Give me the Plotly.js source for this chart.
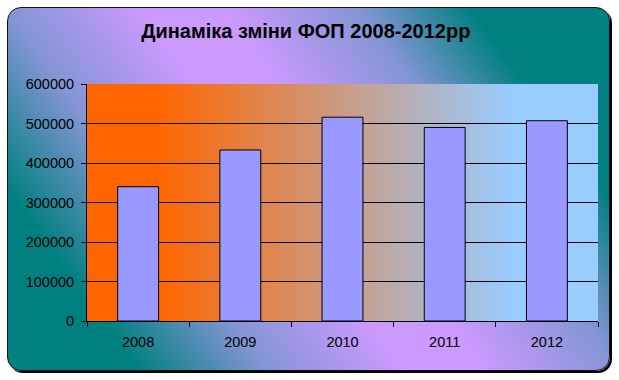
<!DOCTYPE html>
<html>
<head>
<meta charset="utf-8">
<script src="https://cdn.plot.ly/plotly-3.0.1.min.js"></script>
<style>
  html, body { margin:0; padding:0; background:#fff; }
  #wrap { position:relative; width:619px; height:380px; overflow:hidden; }
  #bg { position:absolute; left:7px; top:7px; width:601px; height:362px;
        border:1px solid #111; border-radius:14px;
        box-shadow: 2px 2px 0.5px #000;
        background: linear-gradient(54deg, #008080 0%, #008080 15%, #8395D4 30%, #CC99FF 46%, #CC99FF 55%, #8395D4 71%, #008080 84%, #008080 100%); }
  #chart { position:absolute; left:0; top:0; width:619px; height:380px; }
</style>
</head>
<body>
<div id="wrap"><div id="bg"></div><div id="chart"></div></div>
<script>
const categories = ['2008', '2009', '2010', '2011', '2012'];
const values = [340000, 433000, 516000, 490000, 507000];
const yTickValues = [0, 100000, 200000, 300000, 400000, 500000, 600000];
const titleText = 'Динаміка зміни ФОП 2008-2012рр';

const svg = "<svg xmlns='http://www.w3.org/2000/svg' width='100' height='100' preserveAspectRatio='none' viewBox='0 0 100 100'>" +
  "<defs><linearGradient id='g' x1='0' x2='1' y1='0' y2='0'>" +
  "<stop offset='0.14' stop-color='#FF6600'/><stop offset='0.83' stop-color='#99CCFF'/>" +
  "</linearGradient></defs><rect width='100' height='100' fill='url(#g)'/></svg>";
const imgSrc = 'data:image/svg+xml;charset=utf-8,' + encodeURIComponent(svg);

const trace = {
  type: 'bar',
  x: categories,
  y: values,
  marker: { color: '#9999FF', line: { color: '#000000', width: 1 } },
  hoverinfo: 'x+y'
};

const font = { family: '"Liberation Sans", Arial, sans-serif', color: '#000000' };

const layout = {
  width: 619, height: 380,
  margin: { l: 87, r: 21, t: 84, b: 59, pad: 0 },
  paper_bgcolor: 'rgba(0,0,0,0)',
  plot_bgcolor: 'rgba(0,0,0,0)',
  showlegend: false,
  bargap: 0.6,
  font: font,
  title: {
    text: '<b>' + titleText + '</b>',
    font: { family: font.family, size: 20, color: '#000000' },
    x: 0.494, xanchor: 'center', xref: 'container',
    y: 0.918, yanchor: 'middle', yref: 'container'
  },
  images: [{
    source: imgSrc, xref: 'paper', yref: 'paper', x: 0, y: 1,
    sizex: 1, sizey: 1, xanchor: 'left', yanchor: 'top',
    sizing: 'stretch', layer: 'below'
  }],
  xaxis: {
    type: 'category',
    showline: true, linecolor: '#000000', linewidth: 1,
    ticks: 'outside', tickson: 'boundaries', ticklen: 5, tickcolor: '#000000', tickwidth: 1,
    tickfont: { family: font.family, size: 14.5, color: '#000000' },
    ticklabelstandoff: 8,
    showgrid: false, zeroline: false, fixedrange: true
  },
  yaxis: {
    range: [0, 600000],
    tickvals: yTickValues,
    ticktext: yTickValues.map(v => String(v)),
    showline: true, linecolor: '#000000', linewidth: 1,
    ticks: 'outside', ticklen: 5, tickcolor: '#000000', tickwidth: 1,
    tickfont: { family: font.family, size: 14.5, color: '#000000' },
    ticklabelstandoff: 4,
    showgrid: true, gridcolor: '#000000', gridwidth: 1,
    zeroline: false, fixedrange: true
  }
};

Plotly.newPlot('chart', [trace], layout, { displayModeBar: false, staticPlot: true });
</script>
</body>
</html>
